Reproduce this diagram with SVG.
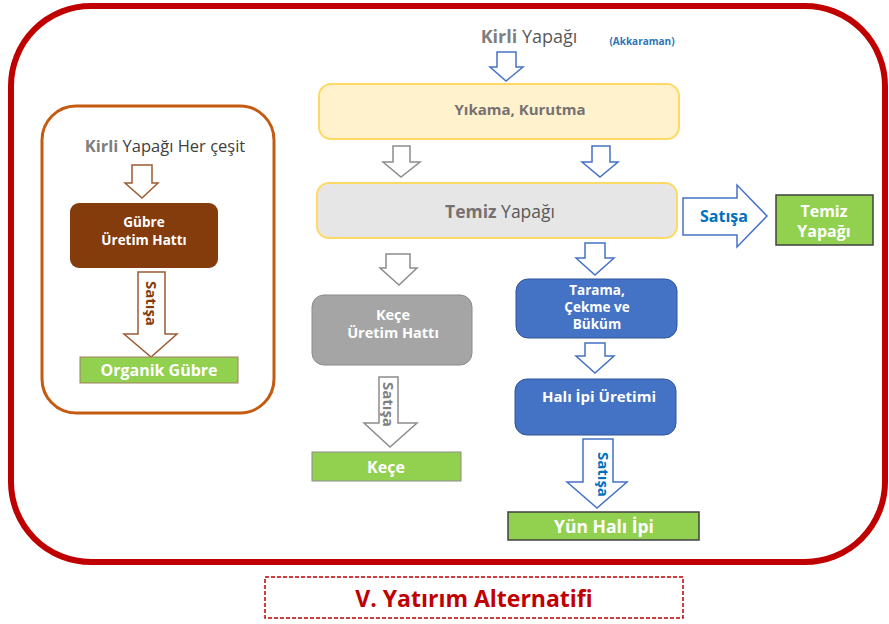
<svg xmlns="http://www.w3.org/2000/svg" width="889" height="624" viewBox="0 0 889 624">
  <style>
    text { font-family: "Open Sans", "Liberation Sans", sans-serif; }
    .w { fill: #ffffff; font-weight: bold; text-anchor: middle; }
    .green { fill: #92D050; }
    .arr-blue { fill: #ffffff; stroke: #4472C4; stroke-width: 1.5; }
    .arr-gray { fill: #ffffff; stroke: #8C8C8C; stroke-width: 1.5; }
    .arr-brown { fill: #ffffff; stroke: #9C5B33; stroke-width: 1.5; }
  </style>

  <rect width="889" height="624" fill="#ffffff"/>

  <!-- outer frame -->
  <rect x="11" y="6" width="874" height="556" rx="80" ry="80" fill="none" stroke="#C00000" stroke-width="6"/>

  <!-- left panel frame -->
  <rect x="42" y="106" width="232" height="307" rx="34" ry="34" fill="none" stroke="#C55A11" stroke-width="3"/>

  <g id="connectors">
    <!-- left panel -->
    <polygon class="arr-brown" points="132,165 152,165 152,183 158,183 142,198 125,183 132,183"/>
    <polygon class="arr-brown" points="138,272 165,272 165,334 177,334 151,357 124,334 138,334"/>
    <text transform="translate(146,281) rotate(90)" fill="#843C0C" font-weight="bold" font-size="15">Satışa</text>

    <!-- main column -->
    <polygon class="arr-blue" points="497,52 516,52 516,67 523,67 506,81 490,67 497,67"/>
    <polygon class="arr-gray" points="393,146 410,146 410,162 420,162 401,177 383,162 393,162"/>
    <polygon class="arr-blue" points="592,146 610,146 610,162 618,162 600,177 582,162 592,162"/>

    <!-- right sale arrow -->
    <polygon class="arr-blue" points="683,198 737,198 737,185 767,216 737,247 737,235 683,235"/>
    <text x="724" y="222" fill="#0070C0" font-weight="bold" font-size="16" text-anchor="middle">Satışa</text>

    <!-- felt branch -->
    <polygon class="arr-gray" points="386,254 410,254 410,268 417,268 399,285 380,268 386,268"/>
    <polygon class="arr-gray" points="379,377 398,377 398,423 417,423 390,447 364,423 379,423"/>
    <text transform="translate(383,382) rotate(90)" fill="#7F7F7F" font-weight="bold" font-size="15">Satışa</text>

    <!-- yarn branch -->
    <polygon class="arr-blue" points="585,243 605,243 605,258 614,258 595,275 576,258 585,258"/>
    <polygon class="arr-blue" points="585,343 605,343 605,356 614,356 595,373 576,356 585,356"/>
    <polygon class="arr-blue" points="583,439 613,439 613,482 627,482 597,508 567,482 583,482"/>
    <text transform="translate(598,452) rotate(90)" fill="#0070C0" font-weight="bold" font-size="15">Satışa</text>
  </g>

  <!-- left panel nodes -->
  <g id="kirli-her-cesit">
    <text x="165" y="152" font-size="16.5" text-anchor="middle"><tspan fill="#7F7F7F" font-weight="bold">Kirli</tspan><tspan fill="#404040"> Yapağı Her çeşit</tspan></text>
  </g>
  <g id="gubre-uretim">
    <rect x="70" y="203" width="148" height="65" rx="9" fill="#843C0C"/>
    <text class="w" x="144" y="227" font-size="13.5">Gübre</text>
    <text class="w" x="144" y="245" font-size="13.5">Üretim Hattı</text>
  </g>
  <g id="organik-gubre">
    <rect class="green" x="80" y="357" width="158" height="26" stroke="#A08060" stroke-width="1"/>
    <text class="w" x="159" y="376" font-size="16">Organik Gübre</text>
  </g>

  <!-- main column nodes -->
  <g id="kirli-yapagi">
    <text x="529" y="43" font-size="18" text-anchor="middle"><tspan fill="#7F7F7F" font-weight="bold">Kirli</tspan><tspan fill="#595959"> Yapağı</tspan></text>
    <text x="642" y="45" font-size="10" fill="#2E75B6" font-weight="bold" text-anchor="middle">(Akkaraman)</text>
  </g>
  <g id="yikama-kurutma">
    <rect x="319" y="84" width="360" height="55" rx="12" fill="#FFF2CC" stroke="#FFD966" stroke-width="2"/>
    <text x="520" y="115" font-size="15" font-weight="bold" fill="#767171" text-anchor="middle">Yıkama, Kurutma</text>
  </g>
  <g id="temiz-yapagi">
    <rect x="317" y="183" width="360" height="55" rx="12" fill="#E7E6E6" stroke="#FFD966" stroke-width="2"/>
    <text x="500" y="218" font-size="17.5" text-anchor="middle"><tspan fill="#767171" font-weight="bold">Temiz</tspan><tspan fill="#595959"> Yapağı</tspan></text>
  </g>
  <g id="temiz-yapagi-satis">
    <rect class="green" x="776" y="195" width="97" height="50" stroke="#404040" stroke-width="1.5"/>
    <text class="w" x="824" y="217" font-size="16">Temiz</text>
    <text class="w" x="824" y="237" font-size="16">Yapağı</text>
  </g>

  <!-- felt branch -->
  <g id="kece-uretim">
    <rect x="312" y="295" width="160" height="70" rx="12" fill="#A5A5A5" stroke="#8C8C8C" stroke-width="1"/>
    <text class="w" x="393" y="320" font-size="14.5">Keçe</text>
    <text class="w" x="393" y="338" font-size="14.5">Üretim Hattı</text>
  </g>
  <g id="kece">
    <rect class="green" x="312" y="452" width="149" height="29" stroke="#8C8C8C" stroke-width="1"/>
    <text class="w" x="386" y="473" font-size="16">Keçe</text>
  </g>

  <!-- yarn branch -->
  <g id="tarama-cekme-bukum">
    <rect x="516" y="279" width="161" height="59" rx="12" fill="#4472C4" stroke="#2F5597" stroke-width="1"/>
    <text class="w" x="597" y="295" font-size="13.5">Tarama,</text>
    <text class="w" x="597" y="312" font-size="13.5">Çekme ve</text>
    <text class="w" x="597" y="329" font-size="13.5">Büküm</text>
  </g>
  <g id="hali-ipi-uretimi">
    <rect x="515" y="379" width="161" height="56" rx="12" fill="#4472C4" stroke="#2F5597" stroke-width="1"/>
    <text class="w" x="599" y="402" font-size="15">Halı İpi Üretimi</text>
  </g>
  <g id="yun-hali-ipi">
    <rect class="green" x="508" y="512" width="191" height="28" stroke="#404040" stroke-width="1.5"/>
    <text class="w" x="604" y="533" font-size="17.5">Yün Halı İpi</text>
  </g>

  <!-- caption -->
  <g id="caption">
    <rect x="265" y="577" width="418" height="41" fill="none" stroke="#C00000" stroke-width="1.5" stroke-dasharray="4,2"/>
    <text x="474" y="607" font-size="23" font-weight="bold" fill="#C00000" text-anchor="middle">V. Yatırım Alternatifi</text>
  </g>
</svg>
